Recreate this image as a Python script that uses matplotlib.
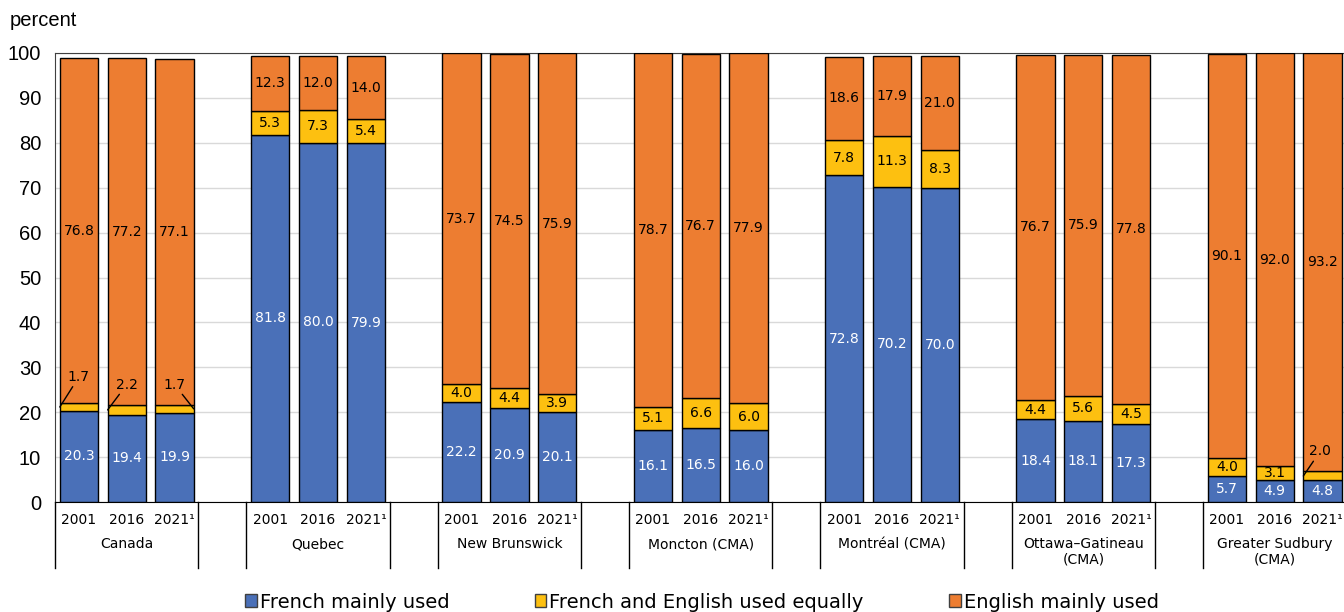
import matplotlib
matplotlib.use("Agg")
import matplotlib.pyplot as plt
from matplotlib.patches import Patch
from matplotlib.transforms import blended_transform_factory

# Language mainly used at work, by region and census year
regions = ["Canada", "Quebec", "New Brunswick", "Moncton (CMA)", "Montréal (CMA)",
           "Ottawa–Gatineau\n(CMA)", "Greater Sudbury\n(CMA)"]
years = ["2001", "2016", "2021¹"]

french = [
    [20.3, 19.4, 19.9],
    [81.8, 80.0, 79.9],
    [22.2, 20.9, 20.1],
    [16.1, 16.5, 16.0],
    [72.8, 70.2, 70.0],
    [18.4, 18.1, 17.3],
    [5.7, 4.9, 4.8],
]
both = [
    [1.7, 2.2, 1.7],
    [5.3, 7.3, 5.4],
    [4.0, 4.4, 3.9],
    [5.1, 6.6, 6.0],
    [7.8, 11.3, 8.3],
    [4.4, 5.6, 4.5],
    [4.0, 3.1, 2.0],
]
english = [
    [76.8, 77.2, 77.1],
    [12.3, 12.0, 14.0],
    [73.7, 74.5, 75.9],
    [78.7, 76.7, 77.9],
    [18.6, 17.9, 21.0],
    [76.7, 75.9, 77.8],
    [90.1, 92.0, 93.2],
]

BLUE = "#4a70b8"
YELLOW = "#fdc010"
ORANGE = "#ed7d31"
LABEL_FONT = "DejaVu Sans"

plt.rcParams["font.family"] = ["Liberation Sans", "DejaVu Sans"]

fig = plt.figure(figsize=(13.44, 6.12), dpi=100)
ax = fig.add_axes([55 / 1344, 1 - 502 / 612, 1 - 55 / 1344, (502 - 53) / 612])

width = 0.8
# thin segments labelled outside the bar with a leader line:
# (region, year) -> (label x offset, label y, edge the line points to)
callouts = {
    (0, 0): (0.0, 26.3, -1),
    (0, 1): (0.0, 24.6, -1),
    (0, 2): (0.0, 24.6, 1),
    (6, 2): (-0.05, 9.7, -1),
}

for g in range(len(regions)):
    for j in range(len(years)):
        x = g * 4 + j
        f, b, e = french[g][j], both[g][j], english[g][j]
        ax.bar(x, f, width, color=BLUE, edgecolor="black", linewidth=1, zorder=3)
        ax.bar(x, b, width, bottom=f, color=YELLOW, edgecolor="black", linewidth=1, zorder=3)
        ax.bar(x, e, width, bottom=f + b, color=ORANGE, edgecolor="black", linewidth=1, zorder=3)

        ax.text(x, f / 2, f"{f:.1f}", ha="center", va="center", color="white",
                fontsize=10, family=LABEL_FONT, zorder=4)
        ax.text(x, f + b + e / 2, f"{e:.1f}", ha="center", va="center", color="black",
                fontsize=10, family=LABEL_FONT, zorder=4)
        if (g, j) in callouts:
            dx, ty, side = callouts[(g, j)]
            ax.annotate(f"{b:.1f}", xy=(x + side * width / 2, f + b / 2),
                        xytext=(x + dx, ty), ha="center", va="bottom",
                        fontsize=10, family=LABEL_FONT, zorder=4,
                        arrowprops=dict(arrowstyle="-", color="black", lw=1,
                                        shrinkA=0, shrinkB=0))
        else:
            ax.text(x, f + b / 2, f"{b:.1f}", ha="center", va="center", color="black",
                    fontsize=10, family=LABEL_FONT, zorder=4)

ax.set_ylim(0, 100)
ax.set_xlim(-0.5, 26.45)
ax.set_yticks(range(0, 101, 10))
ax.tick_params(axis="y", length=0, pad=10, labelsize=14.5)
ax.set_xticks([])
ax.grid(axis="y", color="#d9d9d9", linewidth=1, zorder=0)
ax.spines["right"].set_visible(False)
ax.spines["top"].set_color("#404040")
ax.spines["left"].set_color("#404040")
ax.spines["bottom"].set_color("black")

# two-level category axis under the bars
trans = blended_transform_factory(ax.transData, ax.transAxes)
for g, name in enumerate(regions):
    for j, yr in enumerate(years):
        ax.text(g * 4 + j, -0.04, yr, transform=trans, ha="center", va="center",
                fontsize=10, family=LABEL_FONT)
    ax.text(g * 4 + 1, -0.078, name, transform=trans, ha="center", va="top",
            fontsize=10, family=LABEL_FONT, linespacing=1.1)
    for xs in (g * 4 - 0.5, g * 4 + 2.5):
        ax.plot([xs, xs], [0, -0.147], transform=trans, color="black",
                linewidth=1, clip_on=False)

fig.text(10 / 1344, 1 - 20 / 612, "percent", fontsize=14.5, va="center", ha="left")

handles = [Patch(facecolor=c, edgecolor="#404040", linewidth=1) for c in (BLUE, YELLOW, ORANGE)]
fig.legend(handles, ["French mainly used", "French and English used equally", "English mainly used"],
           loc="center", bbox_to_anchor=(702 / 1344, 1 - 602 / 612), ncol=3, frameon=False,
           prop={"family": "DejaVu Sans", "size": 14},
           handlelength=0.6, handleheight=0.6, handletextpad=0.15,
           columnspacing=4.4, borderpad=0)

fig.savefig("out.png", dpi=100)
